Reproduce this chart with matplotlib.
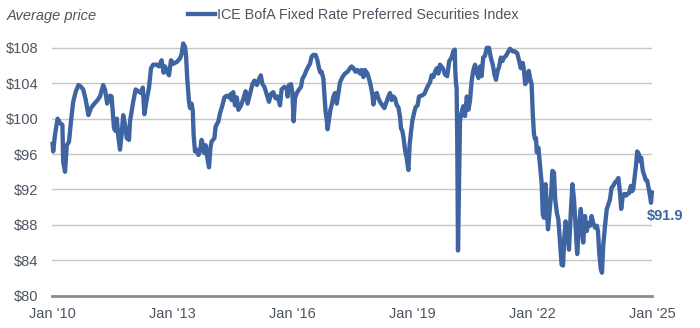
import matplotlib
matplotlib.use("Agg")
import matplotlib.pyplot as plt
from matplotlib.lines import Line2D

# Average price of the index, sampled as (decimal year, price)
years = [
    2010.01, 2010.03, 2010.075, 2010.14, 2010.20, 2010.26, 2010.28, 2010.325, 2010.37, 2010.425,
    2010.475, 2010.53, 2010.59, 2010.66, 2010.725, 2010.78, 2010.84, 2010.91, 2010.975, 2011.06,
    2011.14, 2011.20, 2011.28, 2011.325, 2011.38, 2011.45, 2011.49, 2011.55, 2011.59, 2011.62,
    2011.66, 2011.70, 2011.74, 2011.78, 2011.825, 2011.87, 2011.925, 2011.95, 2012.03, 2012.09,
    2012.16, 2012.225, 2012.27, 2012.31, 2012.37, 2012.425, 2012.475, 2012.53, 2012.62, 2012.675,
    2012.74, 2012.79, 2012.825, 2012.89, 2012.925, 2012.975, 2013.03, 2013.12, 2013.20, 2013.24,
    2013.28, 2013.325, 2013.35, 2013.38, 2013.425, 2013.45, 2013.49, 2013.52, 2013.54, 2013.575,
    2013.62, 2013.66, 2013.70, 2013.74, 2013.785, 2013.81, 2013.84, 2013.88, 2013.925, 2013.96,
    2013.99, 2014.06, 2014.09, 2014.16, 2014.20, 2014.26, 2014.31, 2014.37, 2014.425, 2014.47,
    2014.49, 2014.53, 2014.575, 2014.62, 2014.66, 2014.725, 2014.78, 2014.84, 2014.89, 2014.95,
    2015.01, 2015.06, 2015.12, 2015.16, 2015.22, 2015.26, 2015.31, 2015.365, 2015.425, 2015.475,
    2015.53, 2015.59, 2015.64, 2015.70, 2015.74, 2015.81, 2015.87, 2015.89, 2015.925, 2015.975,
    2016.01, 2016.04, 2016.075, 2016.12, 2016.175, 2016.225, 2016.26, 2016.31, 2016.365, 2016.41,
    2016.45, 2016.49, 2016.53, 2016.59, 2016.635, 2016.675, 2016.71, 2016.74, 2016.785, 2016.81,
    2016.84, 2016.865, 2016.89, 2016.925, 2016.96, 2016.99, 2017.035, 2017.075, 2017.12, 2017.16,
    2017.20, 2017.26, 2017.325, 2017.39, 2017.45, 2017.49, 2017.535, 2017.59, 2017.64, 2017.70,
    2017.74, 2017.785, 2017.825, 2017.885, 2017.925, 2017.975, 2018.01, 2018.035, 2018.075, 2018.12,
    2018.16, 2018.20, 2018.26, 2018.31, 2018.365, 2018.41, 2018.45, 2018.49, 2018.535, 2018.575,
    2018.62, 2018.66, 2018.70, 2018.725, 2018.76, 2018.79, 2018.825, 2018.865, 2018.91, 2018.94,
    2018.975, 2019.01, 2019.06, 2019.09, 2019.14, 2019.175, 2019.24, 2019.31, 2019.365, 2019.41,
    2019.45, 2019.49, 2019.535, 2019.575, 2019.62, 2019.66, 2019.70, 2019.77, 2019.825, 2019.88,
    2019.93, 2019.99, 2020.03, 2020.07, 2020.08, 2020.10, 2020.115, 2020.13, 2020.15, 2020.175,
    2020.20, 2020.24, 2020.28, 2020.325, 2020.37, 2020.41, 2020.45, 2020.49, 2020.53, 2020.575,
    2020.62, 2020.66, 2020.70, 2020.74, 2020.78, 2020.825, 2020.87, 2020.925, 2020.97, 2021.02,
    2021.06, 2021.10, 2021.14, 2021.18, 2021.22, 2021.26, 2021.30, 2021.35, 2021.41, 2021.45,
    2021.52, 2021.575, 2021.63, 2021.68, 2021.72, 2021.77, 2021.80, 2021.83, 2021.87, 2021.92,
    2021.95, 2021.99, 2022.02, 2022.05, 2022.075, 2022.10, 2022.12, 2022.16, 2022.20, 2022.24,
    2022.27, 2022.30, 2022.34, 2022.37, 2022.40, 2022.43, 2022.475, 2022.51, 2022.55, 2022.58,
    2022.62, 2022.66, 2022.70, 2022.74, 2022.775, 2022.81, 2022.84, 2022.88, 2022.925, 2022.97,
    2023.01, 2023.05, 2023.09, 2023.13, 2023.175, 2023.22, 2023.25, 2023.28, 2023.325, 2023.37,
    2023.41, 2023.45, 2023.49, 2023.53, 2023.575, 2023.62, 2023.65, 2023.68, 2023.72, 2023.75,
    2023.78, 2023.825, 2023.87, 2023.91, 2023.95, 2023.99, 2024.03, 2024.075, 2024.12, 2024.16,
    2024.20, 2024.23, 2024.27, 2024.31, 2024.35, 2024.39, 2024.43, 2024.47, 2024.50, 2024.53,
    2024.57, 2024.60, 2024.63, 2024.67, 2024.70, 2024.73, 2024.77, 2024.80, 2024.84, 2024.88,
    2024.92, 2024.95, 2024.975, 2025.0,
]
prices = [
    97.4, 96.3, 98.2, 100.0, 99.5, 99.3, 95.1, 94.0, 97.0, 97.4,
    99.7, 101.9, 103.0, 103.8, 103.6, 103.3, 102.2, 100.4, 101.2, 101.7,
    102.1, 102.5, 103.8, 103.3, 101.7, 102.6, 102.5, 98.9, 98.6, 100.0,
    97.9, 96.5, 98.2, 100.4, 99.3, 97.8, 97.6, 99.7, 101.9, 103.3,
    103.1, 102.9, 103.5, 100.5, 102.2, 103.5, 105.7, 106.1, 106.1, 105.9,
    106.6, 105.2, 105.9, 105.2, 104.9, 106.6, 106.2, 106.4, 106.8, 107.3,
    108.5, 108.1, 107.2, 104.6, 101.9, 101.2, 101.7, 100.9, 98.2, 96.3,
    96.5, 95.9, 96.3, 97.6, 96.8, 96.1, 97.0, 95.7, 94.5, 96.7,
    97.4, 97.8, 99.1, 99.7, 100.6, 101.5, 102.4, 102.6, 102.4, 102.8,
    102.1, 103.0, 101.5, 102.4, 101.0, 101.5, 102.2, 103.1, 101.7, 102.8,
    103.9, 104.3, 103.8, 104.3, 104.9, 103.9, 103.6, 102.8, 101.9, 102.8,
    103.0, 102.3, 102.5, 101.5, 103.3, 103.6, 103.4, 102.5, 103.8, 103.9,
    102.9, 99.7, 102.3, 102.9, 103.3, 103.6, 104.5, 104.9, 105.5, 105.9,
    106.2, 107.0, 107.2, 107.2, 106.6, 105.7, 105.2, 105.3, 104.5, 102.7,
    100.8, 100.0, 98.8, 99.9, 101.0, 101.5, 102.5, 102.9, 101.7, 102.9,
    104.1, 104.7, 105.1, 105.3, 105.7, 105.9, 105.7, 105.3, 105.5, 105.1,
    105.5, 104.7, 105.5, 105.1, 104.5, 103.6, 102.7, 101.6, 102.7, 102.9,
    102.3, 101.9, 101.5, 101.2, 101.9, 102.5, 102.9, 102.1, 102.5, 102.3,
    101.5, 101.3, 100.2, 98.9, 98.6, 97.8, 96.5, 95.6, 94.2, 97.0,
    98.5, 99.8, 100.8, 101.3, 101.5, 102.5, 102.6, 102.8, 103.4, 103.8,
    104.1, 104.9, 104.7, 105.3, 105.7, 105.1, 106.1, 105.7, 105.0, 104.8,
    106.5, 106.9, 107.6, 107.8, 105.7, 103.9, 103.5, 98.2, 85.1, 92.2,
    99.7, 100.7, 101.4, 100.3, 102.5, 101.0, 102.0, 104.2, 105.4, 106.1,
    105.2, 104.6, 105.9, 104.8, 106.9, 107.1, 108.0, 108.0, 106.9, 106.1,
    105.0, 104.4, 105.4, 105.9, 106.9, 106.5, 106.9, 107.1, 107.6, 107.9,
    107.6, 107.6, 107.4, 106.5, 105.7, 106.3, 105.4, 103.9, 104.2, 105.4,
    104.6, 103.9, 100.5, 98.2, 97.7, 97.8, 96.2, 96.7, 94.7, 92.8,
    89.2, 88.8, 92.6, 89.8, 87.5, 89.0, 91.3, 94.1, 93.9, 90.9,
    89.4, 88.6, 86.0, 83.5, 83.4, 86.7, 88.4, 87.5, 85.2, 89.4,
    92.6, 90.9, 87.9, 84.7, 87.9, 89.8, 87.9, 86.0, 89.0, 87.3,
    88.2, 87.9, 89.0, 88.2, 87.7, 87.9, 87.3, 84.9, 83.0, 82.6,
    85.6, 87.9, 89.8, 90.3, 90.9, 92.2, 92.4, 92.8, 93.0, 93.3,
    91.6, 89.8, 91.3, 91.5, 91.3, 91.5, 91.6, 92.4, 91.8, 92.0,
    93.5, 94.7, 96.3, 96.0, 95.2, 95.6, 94.1, 93.7, 93.1, 93.0,
    92.0, 91.3, 90.5, 91.9,
]

y_ticks = [80, 84, 88, 92, 96, 100, 104, 108]
y_labels = ["$80", "$84", "$88", "$92", "$96", "$100", "$104", "$108"]
x_ticks = [2010, 2013, 2016, 2019, 2022, 2025]
x_labels = ["Jan '10", "Jan '13", "Jan '16", "Jan '19", "Jan '22", "Jan '25"]
series_name = "ICE BofA Fixed Rate Preferred Securities Index"
y_title = "Average price"
last_label = "$91.9"

BLUE = "#3E64A1"
TEXT = "#4d5560"

plt.rcParams['font.family'] = ['Liberation Sans', 'DejaVu Sans']

fig = plt.figure(figsize=(7, 3.28), dpi=100)
ax = fig.add_axes([52 / 700, 1 - 295.7 / 328, 600 / 700, (295.7 - 39) / 328])

ax.plot(years, prices, color=BLUE, lw=3.1, solid_joinstyle='round',
        solid_capstyle='butt', clip_on=False, zorder=3)

ax.set_xlim(2010, 2025)
ax.set_ylim(80, 109)
ax.set_yticks(y_ticks)
ax.set_yticklabels(y_labels)
ax.set_xticks(x_ticks)
ax.set_xticklabels(x_labels)
ax.grid(axis='y', color='#c6c6c6', lw=1)
ax.set_axisbelow(True)
ax.tick_params(axis='both', length=0, labelsize=10.5, colors=TEXT)
ax.tick_params(axis='y', pad=10)
ax.tick_params(axis='x', pad=8)
for side in ['top', 'right', 'left']:
    ax.spines[side].set_visible(False)
ax.spines['bottom'].set_color('#8a8a8a')
ax.spines['bottom'].set_linewidth(2)

ax.annotate(last_label, (years[-1], prices[-1]), xytext=(-4, -18.5),
            textcoords='offset points', ha='left', va='center',
            fontsize=10.5, fontweight='bold', color=BLUE, annotation_clip=False)

fig.text(7 / 700, 1 - 16 / 328, y_title, style='italic', va='center',
         fontsize=10.5, color=TEXT)

handle = Line2D([], [], color=BLUE, lw=3.1)
fig.legend([handle], [series_name], loc='center left',
           bbox_to_anchor=(188 / 700, 1 - 15 / 328), frameon=False,
           borderpad=0, borderaxespad=0, handlelength=1.9, handletextpad=0.15,
           prop={'size': 10.3}, labelcolor=TEXT)

fig.savefig("out.png", dpi=100)
